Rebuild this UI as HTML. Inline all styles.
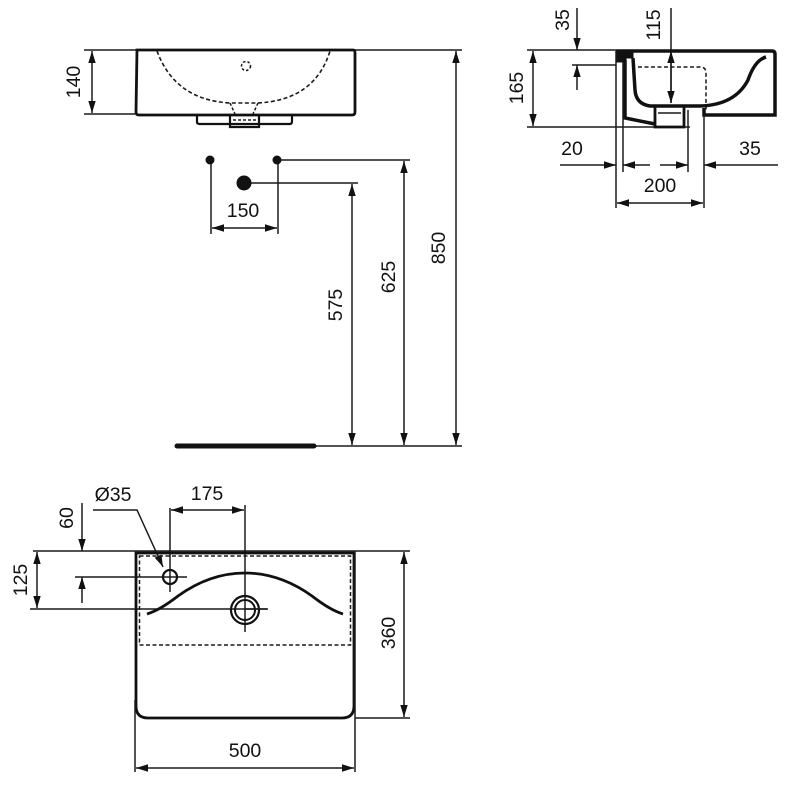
<!DOCTYPE html>
<html><head><meta charset="utf-8"><style>
html,body{margin:0;padding:0;background:#fff;}
svg{display:block;}
text{font-family:"Liberation Sans",Arial,sans-serif;font-size:19.5px;fill:#111;text-anchor:middle;dominant-baseline:middle;}
</style></head><body>
<svg width="800" height="800" viewBox="0 0 800 800" xmlns="http://www.w3.org/2000/svg">
<defs>
<marker id="a" viewBox="0 0 12 10" refX="12" refY="5" markerWidth="12" markerHeight="10" markerUnits="userSpaceOnUse" orient="auto-start-reverse">
<path d="M0,1.3 L12,5 L0,8.7 Z" fill="#111"/></marker>
</defs>
<g stroke="#1a1a1a" stroke-width="1.5" fill="none">
<!-- FRONT VIEW -->
<line x1="84" y1="50" x2="462" y2="50"/>
<line x1="84" y1="114" x2="135" y2="114"/>
<line x1="92" y1="51" x2="92" y2="113" marker-start="url(#a)" marker-end="url(#a)"/>
<path d="M137,50 H353 Q355,50 355,53 V112 Q355,115 352,115 H139 Q136,115 136,112 Z" stroke="#111" stroke-width="2.8"/>
<path d="M157,51 Q175,100 230,103 L258,103 Q315,100 330,51" stroke-dasharray="4,2.5" stroke-width="1.6"/>
<path d="M230,103 L235,114 M258,103 L253,114" stroke-dasharray="3,2"/>
<circle cx="246" cy="66" r="4.5" stroke-dasharray="2.5,2"/>
<path d="M197,115 V122 Q197,124 200,124 H290 Q292,124 292,121 V115" stroke="#111" stroke-width="2.2"/>
<path d="M230,115 V127 H259 V115" stroke="#111" stroke-width="2.2"/>
<line x1="233" y1="120" x2="256" y2="120" stroke-dasharray="3,2"/>
<line x1="211" y1="160" x2="211" y2="234"/>
<line x1="278" y1="160" x2="278" y2="234"/>
<line x1="212" y1="228" x2="277" y2="228" marker-start="url(#a)" marker-end="url(#a)"/>
<line x1="278" y1="160" x2="410" y2="160"/>
<line x1="244" y1="183" x2="358" y2="183"/>
<line x1="352" y1="184" x2="352" y2="445" marker-start="url(#a)" marker-end="url(#a)"/>
<line x1="404" y1="161" x2="404" y2="445" marker-start="url(#a)" marker-end="url(#a)"/>
<line x1="456" y1="51" x2="456" y2="445" marker-start="url(#a)" marker-end="url(#a)"/>
<line x1="315" y1="446" x2="462" y2="446"/>
<line x1="177" y1="446" x2="314" y2="446" stroke="#111" stroke-width="5" stroke-linecap="round"/>

<!-- SIDE VIEW -->
<line x1="527" y1="50" x2="616" y2="50"/>
<line x1="527" y1="127" x2="690" y2="127"/>
<line x1="533" y1="51" x2="533" y2="126" marker-start="url(#a)" marker-end="url(#a)"/>
<line x1="577" y1="8" x2="577" y2="50" marker-end="url(#a)"/>
<line x1="572" y1="65" x2="616" y2="65"/>
<line x1="577" y1="90" x2="577" y2="65" marker-end="url(#a)"/>
<line x1="671" y1="8" x2="671" y2="103"/>
<line x1="671" y1="80" x2="671" y2="51" marker-end="url(#a)"/>
<line x1="671" y1="80" x2="671" y2="103" marker-end="url(#a)"/>
<path d="M638,67 H700 Q706,67 706,73 V110" stroke-dasharray="4,2.5"/>
<path d="M616,51 H772 Q775,51 775,54 V115 H704 V108" stroke="#111" stroke-width="3.5"/>
<path d="M766,57 Q755,60 748,80 Q735,105 700,106 L650,106 Q636,104 635,90 L633,58" stroke="#111" stroke-width="3.5"/>
<path d="M617,51 H633 V58 H626 V62 H617 Z" fill="#111" stroke="#111" stroke-width="1"/>
<path d="M625,60 V118 L655,124" stroke="#111" stroke-width="3.5"/>
<path d="M655,106 V127 H684 V106" stroke="#111" stroke-width="2.8"/>
<line x1="658" y1="113" x2="681" y2="113"/>
<line x1="616" y1="51" x2="616" y2="208"/>
<line x1="623" y1="62" x2="623" y2="172"/>
<line x1="688" y1="110" x2="688" y2="172"/>
<line x1="704" y1="115" x2="704" y2="208"/>
<line x1="560" y1="165" x2="616" y2="165" marker-end="url(#a)"/>
<line x1="650" y1="165" x2="623" y2="165" marker-end="url(#a)"/>
<line x1="660" y1="165" x2="688" y2="165" marker-end="url(#a)"/>
<line x1="778" y1="165" x2="704" y2="165" marker-end="url(#a)"/>
<line x1="617" y1="203" x2="703" y2="203" marker-start="url(#a)" marker-end="url(#a)"/>

<!-- PLAN VIEW -->
<line x1="33" y1="551" x2="410" y2="551"/>
<line x1="30" y1="609" x2="268" y2="609"/>
<line x1="37" y1="552" x2="37" y2="608" marker-start="url(#a)" marker-end="url(#a)"/>
<line x1="82" y1="503" x2="82" y2="551" marker-end="url(#a)"/>
<line x1="82" y1="603" x2="82" y2="577" marker-end="url(#a)"/>
<line x1="75" y1="577" x2="187" y2="577"/>
<line x1="170" y1="508" x2="170" y2="592"/>
<line x1="245" y1="505" x2="245" y2="632"/>
<line x1="171" y1="510" x2="244" y2="510" marker-start="url(#a)" marker-end="url(#a)"/>
<path d="M93,510 H137 L163,567" marker-end="url(#a)"/>
<path d="M136,553 H354 V706 Q354,718 342,718 H148 Q136,718 136,706 Z" stroke="#111" stroke-width="2.8"/>
<rect x="139.5" y="556" width="211" height="89" stroke-dasharray="4,2.5" stroke-width="1.5"/>
<path d="M147,614 Q160,610 178,596 Q210,573 245,573 Q280,573 312,596 Q330,610 343,614" stroke="#111" stroke-width="2.8"/>
<circle cx="170" cy="577" r="7" stroke="#111" stroke-width="2.2"/>
<circle cx="245" cy="610" r="14" stroke="#111" stroke-width="2.2"/>
<circle cx="245" cy="610" r="10" stroke="#111" stroke-width="2"/>
<line x1="245" y1="609" x2="267" y2="609"/>
<line x1="355" y1="551" x2="355" y2="772"/>
<line x1="135" y1="700" x2="135" y2="772"/>
<line x1="355" y1="718" x2="410" y2="718"/>
<line x1="404" y1="552" x2="404" y2="717" marker-start="url(#a)" marker-end="url(#a)"/>
<line x1="136" y1="768" x2="354" y2="768" marker-start="url(#a)" marker-end="url(#a)"/>
</g>
<g fill="#111">
<circle cx="210" cy="160" r="4.5"/>
<circle cx="277" cy="160" r="4.5"/>
<circle cx="244" cy="183" r="7.5"/>
</g>
<text x="243" y="212">150</text>
<text transform="translate(75,82) rotate(-90)">140</text>
<text transform="translate(337,305) rotate(-90)">575</text>
<text transform="translate(390,277) rotate(-90)">625</text>
<text transform="translate(440,248) rotate(-90)">850</text>
<text transform="translate(518,88) rotate(-90)">165</text>
<text transform="translate(564,20) rotate(-90)">35</text>
<text transform="translate(655,25) rotate(-90)">115</text>
<text x="572" y="150">20</text>
<text x="750" y="150">35</text>
<text x="660" y="187">200</text>
<text x="113" y="496">Ø35</text>
<text x="207" y="495">175</text>
<text transform="translate(68,518) rotate(-90)">60</text>
<text transform="translate(22,580) rotate(-90)">125</text>
<text transform="translate(390,633) rotate(-90)">360</text>
<text x="245" y="752">500</text>
</svg>
</body></html>
